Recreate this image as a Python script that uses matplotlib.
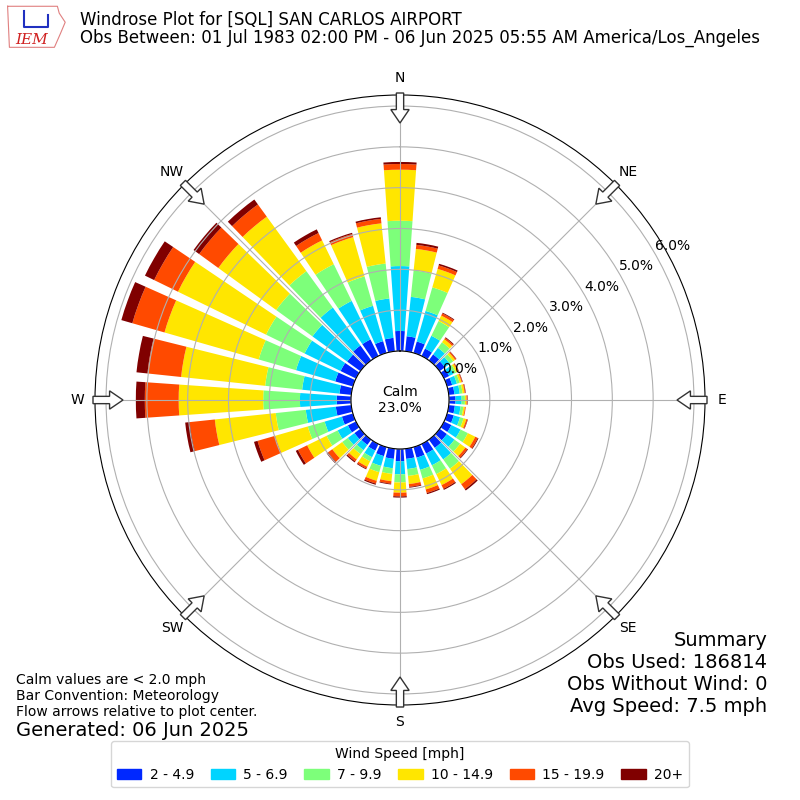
import numpy as np
import matplotlib
matplotlib.use('Agg')
import matplotlib.pyplot as plt
from matplotlib.patches import FancyArrow, Patch

# direction bins (degrees, meteorological)
directions = np.arange(0, 360, 10)

# percent of obs per speed bin
spd_2_5 = [0.49, 0.37, 0.29, 0.20, 0.18, 0.16, 0.14, 0.13, 0.14, 0.16, 0.15, 0.17,
           0.20, 0.22, 0.25, 0.26, 0.27, 0.25, 0.30, 0.25, 0.23, 0.18, 0.16, 0.18,
           0.22, 0.28, 0.38, 0.35, 0.29, 0.45, 0.42, 0.40, 0.45, 0.45, 0.30, 0.33]
spd_5_7 = [1.59, 0.97, 0.78, 0.35, 0.20, 0.15, 0.12, 0.12, 0.13, 0.15, 0.14, 0.16,
           0.25, 0.23, 0.35, 0.32, 0.31, 0.25, 0.32, 0.23, 0.25, 0.18, 0.16, 0.20,
           0.28, 0.44, 0.74, 0.90, 0.92, 1.00, 0.98, 1.05, 1.15, 1.05, 0.90, 0.97]
spd_7_10 = [1.11, 0.65, 0.60, 0.40, 0.17, 0.10, 0.07, 0.07, 0.07, 0.08, 0.07, 0.09,
            0.20, 0.17, 0.28, 0.24, 0.22, 0.17, 0.20, 0.14, 0.16, 0.11, 0.12, 0.17,
            0.30, 0.43, 0.74, 0.90, 0.91, 0.95, 1.05, 1.10, 1.10, 1.00, 0.75, 0.86]
spd_10_15 = [1.25, 0.53, 0.47, 0.15, 0.09, 0.06, 0.05, 0.05, 0.05, 0.04, 0.04, 0.07,
             0.20, 0.16, 0.47, 0.30, 0.28, 0.20, 0.25, 0.18, 0.22, 0.15, 0.16, 0.30,
             0.53, 0.83, 1.50, 2.07, 2.07, 2.40, 2.40, 1.75, 1.65, 0.65, 1.00, 0.99]
spd_15_20 = [0.14, 0.10, 0.09, 0.06, 0.04, 0.03, 0.02, 0.02, 0.02, 0.02, 0.02, 0.03,
             0.07, 0.06, 0.15, 0.10, 0.09, 0.07, 0.09, 0.06, 0.07, 0.05, 0.06, 0.13,
             0.25, 0.45, 0.62, 0.83, 0.83, 0.82, 0.65, 0.58, 0.37, 0.20, 0.08, 0.11]
spd_20p = [0.05, 0.05, 0.04, 0.02, 0.02, 0.01, 0.01, 0.01, 0.01, 0.01, 0.00, 0.01,
           0.02, 0.02, 0.04, 0.03, 0.03, 0.02, 0.03, 0.02, 0.03, 0.02, 0.03, 0.04,
           0.06, 0.09, 0.11, 0.22, 0.27, 0.28, 0.25, 0.17, 0.15, 0.10, 0.03, 0.04]

speed_bins = [spd_2_5, spd_5_7, spd_7_10, spd_10_15, spd_15_20, spd_20p]
speed_labels = ['2 - 4.9', '5 - 6.9', '7 - 9.9', '10 - 14.9', '15 - 19.9', '20+']
colors = ['#0028ff', '#00d4ff', '#7dff7a', '#ffe600', '#ff4a00', '#800000']

compass = ['N', 'NE', 'E', 'SE', 'S', 'SW', 'W', 'NW']
rticks = [0, 1, 2, 3, 4, 5, 6]
calm_pct = 23.0

fig = plt.figure(figsize=(8, 8), dpi=100)
ax = fig.add_axes([95 / 800, 95 / 800, 610 / 800, 610 / 800], projection='polar')
ax.set_theta_zero_location('N')
ax.set_theta_direction(-1)

theta = np.deg2rad(directions)
bottom = np.zeros(len(directions))
for vals, col, lab in zip(speed_bins, colors, speed_labels):
    vals = np.array(vals)
    ax.bar(theta, vals, width=np.deg2rad(8), bottom=bottom, color=col,
           linewidth=0, label=lab)
    bottom += vals

ax.set_ylim(0, 6.27)
ax.set_rorigin(-1.2)
ax.set_rticks(rticks)
ax.set_yticklabels(['%.1f%%' % t for t in rticks], fontsize=10)
ax.set_rlabel_position(60)
ax.set_thetagrids(range(0, 360, 45), labels=compass, fontsize=10)
ax.tick_params(axis='x', pad=2)
ax.grid(True, color='#b0b0b0', linewidth=0.8)
for lbl in ax.get_yticklabels():
    lbl.set_zorder(5)

ax.text(0, -1.2, 'Calm\n%.1f%%' % calm_pct, ha='center', va='center',
        fontsize=10, zorder=5)

# flow arrows at the compass points
for ang in range(0, 360, 45):
    a = np.deg2rad(ang)
    r0 = 0.5 + 2 / 610
    length = 30 / 610
    x0 = 0.5 + r0 * np.sin(a)
    y0 = 0.5 + r0 * np.cos(a)
    arr = FancyArrow(x0, y0, -length * np.sin(a), -length * np.cos(a),
                     width=0.012, head_width=0.03, head_length=0.022,
                     length_includes_head=True, fc='white', ec='#333333',
                     lw=1, transform=ax.transAxes, clip_on=False, zorder=6)
    ax.add_patch(arr)

# titles
fig.text(0.1, 0.975, 'Windrose Plot for [SQL] SAN CARLOS AIRPORT',
         fontsize=12, va='center')
fig.text(0.1, 0.953,
         'Obs Between: 01 Jul 1983 02:00 PM - 06 Jun 2025 05:55 AM America/Los_Angeles',
         fontsize=12, va='center')

# rough IEM logo
lax = fig.add_axes([0.008, 0.938, 0.075, 0.057])
lax.set_xlim(0, 1)
lax.set_ylim(0, 1)
lax.axis('off')
lax.plot([0.02, 0.85, 0.88, 0.98, 0.9, 0.8, 0.05, 0.02],
         [0.95, 0.95, 0.8, 0.6, 0.35, 0.05, 0.05, 0.95],
         color='#e08080', lw=0.8)
lax.plot([0.3, 0.3, 0.7, 0.7], [0.85, 0.5, 0.5, 0.75], color='#2030c0', lw=1.5)
lax.text(0.42, 0.22, 'IEM', color='#d02020', fontsize=11, family='serif',
         style='italic', ha='center', va='center')

# notes lower left
fig.text(0.02, 0.15, 'Calm values are < 2.0 mph', fontsize=10, va='center')
fig.text(0.02, 0.13, 'Bar Convention: Meteorology', fontsize=10, va='center')
fig.text(0.02, 0.11, 'Flow arrows relative to plot center.', fontsize=10, va='center')
fig.text(0.02, 0.0875, 'Generated: 06 Jun 2025', fontsize=14, va='center')

# summary lower right
summary = ['Summary', 'Obs Used: 186814', 'Obs Without Wind: 0', 'Avg Speed: 7.5 mph']
for i, s in enumerate(summary):
    fig.text(0.959, 0.2 - i * 0.0275, s, fontsize=14, ha='right', va='center')

handles = [Patch(color=c) for c in colors]
fig.legend(handles, speed_labels, loc='lower center', bbox_to_anchor=(0.5, 0.007),
           ncol=6, title='Wind Speed [mph]', fontsize=10, title_fontsize=10,
           handlelength=1.75, handleheight=0.7, handletextpad=0.6,
           columnspacing=1.2)

fig.savefig('out.png', dpi=100)
